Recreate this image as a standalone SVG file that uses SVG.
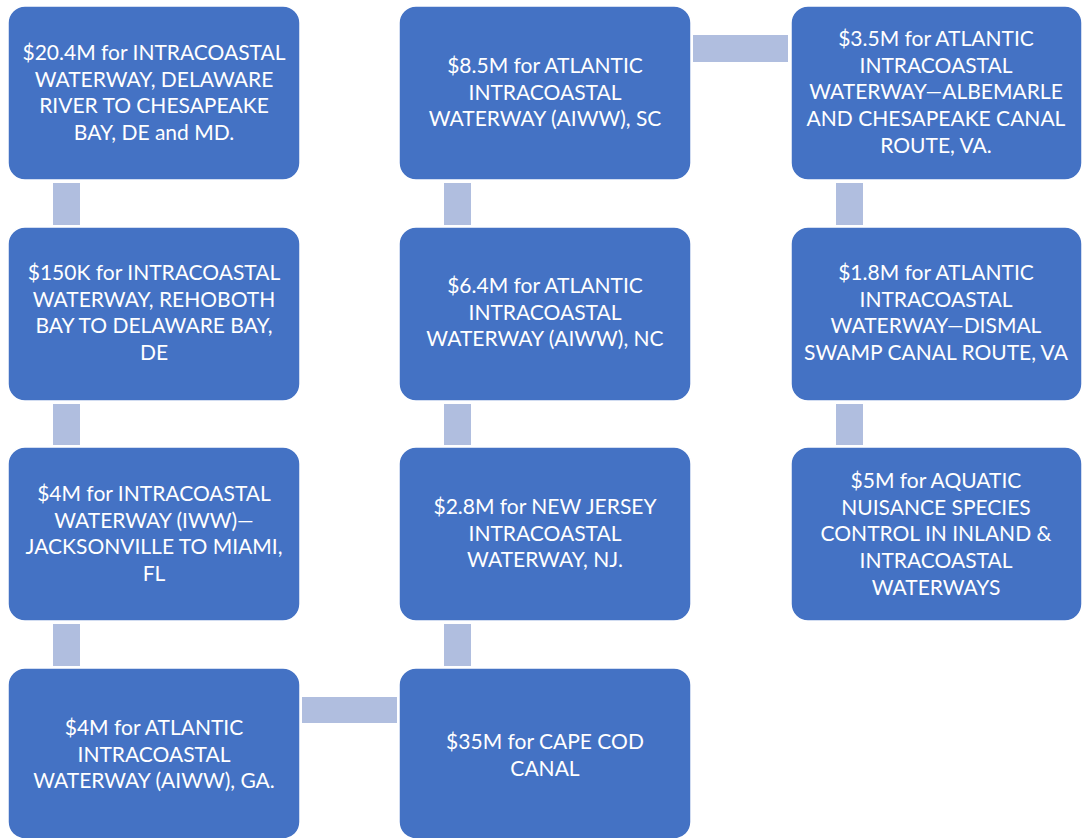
<svg xmlns="http://www.w3.org/2000/svg" width="1087" height="838" viewBox="0 0 1087 838">
<style>
.box{fill:#4472C4;stroke:#FFFFFF;stroke-width:1.5}
.con{fill:#B0BEDF}
.t{font-family:Lato,"Liberation Sans",sans-serif;font-size:21px;fill:#FFFFFF;text-anchor:middle}
</style>
<rect width="1087" height="838" fill="#FFFFFF"/>
<g id="connectors">
<rect class="con" x="53" y="183" width="27" height="42"/>
<rect class="con" x="53" y="404" width="27" height="41"/>
<rect class="con" x="53" y="624" width="27" height="42"/>
<rect class="con" x="302" y="697" width="95" height="26"/>
<rect class="con" x="444" y="624" width="27" height="42"/>
<rect class="con" x="444" y="404" width="27" height="41"/>
<rect class="con" x="444" y="183" width="27" height="42"/>
<rect class="con" x="693" y="35" width="95" height="27"/>
<rect class="con" x="836" y="183" width="27" height="42"/>
<rect class="con" x="836" y="404" width="27" height="41"/>
</g>
<g id="n1"><rect class="box" x="8" y="6" width="292" height="174" rx="17"/>
<text class="t" x="154"><tspan x="154" y="60">$20.4M for INTRACOASTAL</tspan><tspan x="154" y="86.7">WATERWAY, DELAWARE</tspan><tspan x="154" y="113.3">RIVER TO CHESAPEAKE</tspan><tspan x="154" y="140">BAY, DE and MD.</tspan></text></g>
<g id="n2"><rect class="box" x="8" y="227" width="292" height="174" rx="17"/>
<text class="t"><tspan x="154" y="280">$150K for INTRACOASTAL</tspan><tspan x="154" y="306.7">WATERWAY, REHOBOTH</tspan><tspan x="154" y="333.3">BAY TO DELAWARE BAY,</tspan><tspan x="154" y="360">DE</tspan></text></g>
<g id="n3"><rect class="box" x="8" y="447" width="292" height="174" rx="17"/>
<text class="t"><tspan x="154" y="501">$4M for INTRACOASTAL</tspan><tspan x="154" y="527.7">WATERWAY (IWW)—</tspan><tspan x="154" y="554.3">JACKSONVILLE TO MIAMI,</tspan><tspan x="154" y="581">FL</tspan></text></g>
<g id="n4"><rect class="box" x="8" y="668" width="292" height="171" rx="17"/>
<text class="t"><tspan x="154" y="735">$4M for ATLANTIC</tspan><tspan x="154" y="761.7">INTRACOASTAL</tspan><tspan x="154" y="788.3">WATERWAY (AIWW), GA.</tspan></text></g>
<g id="n5"><rect class="box" x="399" y="668" width="292" height="171" rx="17"/>
<text class="t"><tspan x="545" y="749">$35M for CAPE COD</tspan><tspan x="545" y="775.7">CANAL</tspan></text></g>
<g id="n6"><rect class="box" x="399" y="447" width="292" height="174" rx="17"/>
<text class="t"><tspan x="545" y="514">$2.8M for NEW JERSEY</tspan><tspan x="545" y="540.7">INTRACOASTAL</tspan><tspan x="545" y="567.3">WATERWAY, NJ.</tspan></text></g>
<g id="n7"><rect class="box" x="399" y="227" width="292" height="174" rx="17"/>
<text class="t"><tspan x="545" y="293">$6.4M for ATLANTIC</tspan><tspan x="545" y="319.7">INTRACOASTAL</tspan><tspan x="545" y="346.3">WATERWAY (AIWW), NC</tspan></text></g>
<g id="n8"><rect class="box" x="399" y="6" width="292" height="174" rx="17"/>
<text class="t"><tspan x="545" y="73">$8.5M for ATLANTIC</tspan><tspan x="545" y="99.7">INTRACOASTAL</tspan><tspan x="545" y="126.3">WATERWAY (AIWW), SC</tspan></text></g>
<g id="n9"><rect class="box" x="791" y="6" width="291" height="174" rx="17"/>
<text class="t"><tspan x="936" y="46">$3.5M for ATLANTIC</tspan><tspan x="936" y="72.7">INTRACOASTAL</tspan><tspan x="936" y="99.3">WATERWAY—ALBEMARLE</tspan><tspan x="936" y="126">AND CHESAPEAKE CANAL</tspan><tspan x="936" y="152.7">ROUTE, VA.</tspan></text></g>
<g id="n10"><rect class="box" x="791" y="227" width="291" height="174" rx="17"/>
<text class="t"><tspan x="936" y="280">$1.8M for ATLANTIC</tspan><tspan x="936" y="306.7">INTRACOASTAL</tspan><tspan x="936" y="333.3">WATERWAY—DISMAL</tspan><tspan x="936" y="360">SWAMP CANAL ROUTE, VA</tspan></text></g>
<g id="n11"><rect class="box" x="791" y="447" width="291" height="174" rx="17"/>
<text class="t"><tspan x="936" y="488">$5M for AQUATIC</tspan><tspan x="936" y="514.7">NUISANCE SPECIES</tspan><tspan x="936" y="541.3">CONTROL IN INLAND &amp;</tspan><tspan x="936" y="568">INTRACOASTAL</tspan><tspan x="936" y="594.7">WATERWAYS</tspan></text></g>
</svg>
